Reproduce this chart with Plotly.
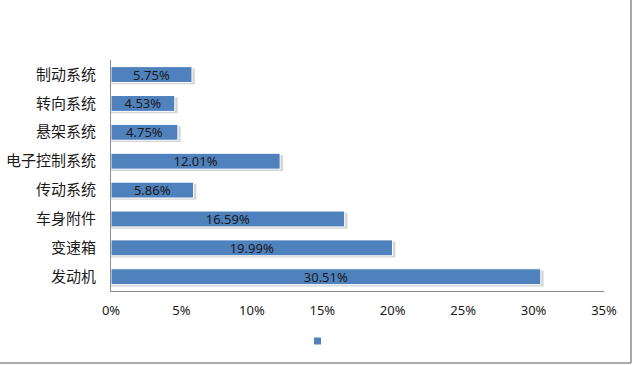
import plotly.graph_objects as go

categories = ["发动机", "变速箱", "车身附件", "传动系统", "电子控制系统", "悬架系统", "转向系统", "制动系统"]
values = [30.51, 19.99, 16.59, 5.86, 12.01, 4.75, 4.53, 5.75]
tick_vals = [0, 5, 10, 15, 20, 25, 30, 35]
tick_text = ["0%", "5%", "10%", "15%", "20%", "25%", "30%", "35%"]

labels = [f"{v:.2f}%" for v in values]
W, H = 634, 365
L, R, T, B = 111, 30, 60, 74
PW, PH = W - L - R, H - T - B

fig = go.Figure()
# shadow
fig.add_trace(go.Bar(
    y=categories, x=[v + 0.2 for v in values], orientation="h",
    width=0.55, offset=-0.34,
    marker=dict(color="rgba(150,150,150,0.4)", line=dict(width=0)),
    showlegend=False, hoverinfo="skip",
))
fig.add_trace(go.Bar(
    y=categories, x=values, orientation="h",
    width=0.55, offset=-0.28,
    marker=dict(color="#4F81BD", line=dict(color="#FFFFFF", width=1)),
    text=labels, textposition="inside", insidetextanchor="middle",
    constraintext="none",
    textfont=dict(size=13, color="#1a1a1a", family="Noto Sans, Open Sans, sans-serif"),
    showlegend=False, hoverinfo="skip",
))
fig.add_trace(go.Scatter(
    x=[None], y=[None], mode="markers", name="",
    marker=dict(symbol="square", size=7, color="#4F81BD"),
    showlegend=True,
))

fig.update_layout(
    width=W, height=H,
    margin=dict(l=L, r=R, t=T, b=B, autoexpand=False),
    paper_bgcolor="white", plot_bgcolor="white",
    barmode="overlay",
    font=dict(family="Noto Sans CJK SC, sans-serif", color="#1a1a1a"),
    xaxis=dict(range=[0, 35], tickvals=tick_vals, ticktext=tick_text, automargin=False,
               showgrid=False, zeroline=False, showline=True, linecolor="#8c8c8c",
               linewidth=1, ticks="", ticklabelstandoff=7,
               tickfont=dict(size=13, family="Noto Sans, Open Sans, sans-serif")),
    yaxis=dict(showgrid=False, zeroline=False, showline=True, linecolor="#8c8c8c",
               linewidth=1, ticks="", tickfont=dict(size=15), ticklabelstandoff=11,
               automargin=False,
               categoryorder="array", categoryarray=categories),
    legend=dict(orientation="h", x=(320 - 111) / PW, xanchor="center", y=(291 - 341) / PH,
                yanchor="middle", font=dict(size=10), bgcolor="rgba(0,0,0,0)", itemwidth=30),
    shapes=[
        dict(type="line", xref="paper", yref="paper",
             x0=(W - 3 - L) / PW, x1=(W - 3 - L) / PW,
             y0=-(B - 2) / PH, y1=1 + T / PH,
             line=dict(color="#8c8c8c", width=1.5)),
        dict(type="line", xref="paper", yref="paper",
             x0=-L / PW, x1=(W - 3 - L) / PW,
             y0=-(B - 2) / PH, y1=-(B - 2) / PH,
             line=dict(color="#8c8c8c", width=1.5)),
    ],
)

fig.write_html("out.html", config={"displayModeBar": False},
               post_script="document.body.style.margin='0';")
